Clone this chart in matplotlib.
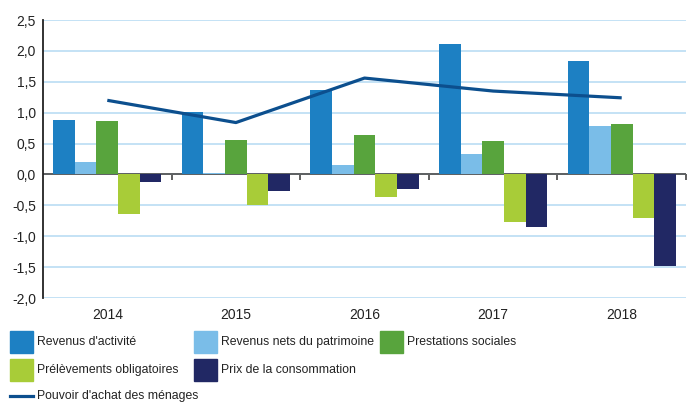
import numpy as np
import matplotlib
matplotlib.use("Agg")
import matplotlib.pyplot as plt
from matplotlib import font_manager
from matplotlib.patches import Rectangle
from matplotlib.lines import Line2D
from matplotlib.ticker import FuncFormatter

# データ
years = ["2014", "2015", "2016", "2017", "2018"]
revenus_activite = [0.88, 1.01, 1.37, 2.11, 1.83]
revenus_patrimoine = [0.20, 0.03, 0.15, 0.33, 0.78]
prestations = [0.86, 0.56, 0.64, 0.54, 0.82]
prelevements = [-0.64, -0.49, -0.36, -0.77, -0.70]
prix_conso = [-0.12, -0.26, -0.24, -0.85, -1.49]
pouvoir_achat = [1.20, 0.84, 1.56, 1.35, 1.24]

bar_labels = ["Revenus d'activité", "Revenus nets du patrimoine", "Prestations sociales",
              "Prélèvements obligatoires", "Prix de la consommation"]
line_label = "Pouvoir d'achat des ménages"

colors = ["#1d80c3", "#7abde8", "#58a43d", "#a8cc38", "#212864"]
line_color = "#0c4f8e"
grid_color = "#c4e2f5"

# フォント選択（細めの書体があれば使う）
names = {f.name for f in font_manager.fontManager.ttflist}
if "Liberation Sans Narrow" in names:
    family = "Liberation Sans Narrow"
elif "DejaVu Sans Condensed" in names:
    family = "DejaVu Sans Condensed"
else:
    family = "Liberation Sans"
plt.rcParams["font.family"] = [family, "DejaVu Sans"]
plt.rcParams["font.size"] = 10

W, H = 694, 405
fig = plt.figure(figsize=(W / 100, H / 100), dpi=100)
ax = fig.add_axes([43 / W, 1 - 298 / H, (686 - 43) / W, (298 - 20) / H])

x = np.arange(len(years))
series = [revenus_activite, revenus_patrimoine, prestations, prelevements, prix_conso]
width = 0.168
for i, vals in enumerate(series):
    ax.bar(x + (i - 2) * width, vals, width, color=colors[i], zorder=3)

ax.plot(x, pouvoir_achat, color=line_color, lw=2.3, zorder=4, solid_capstyle="butt")

ax.set_xlim(-0.5, len(years) - 0.5)
ax.set_ylim(-2.0, 2.5)
ax.set_yticks(np.arange(-2.0, 2.51, 0.5))
ax.yaxis.set_major_formatter(FuncFormatter(lambda v, p: f"{v:.1f}".replace(".", ",")))
ax.set_xticks(x)
ax.set_xticklabels(years)
ax.tick_params(axis="x", length=0, pad=7, labelsize=10, colors="#222222")
ax.tick_params(axis="y", length=0, pad=5, labelsize=10, colors="#222222")

# グリッド
ax.grid(axis="y", color=grid_color, lw=1.4, zorder=0)
ax.set_axisbelow(True)
for s in ["top", "right", "bottom"]:
    ax.spines[s].set_visible(False)
ax.spines["left"].set_color("#222222")
ax.spines["left"].set_linewidth(1.3)
ax.spines["left"].set_zorder(5)

# ゼロ線と区切りの目盛り
ax.axhline(0, color="#555555", lw=1.3, zorder=2.5)
sec = ax.secondary_xaxis(2.0 / 4.5)
sec.set_xticks(np.arange(0.5, len(years), 1.0))
sec.tick_params(axis="x", direction="out", length=4, width=1.2, colors="#444444",
                labelbottom=False, labeltop=False, bottom=True, top=False)
for s in ["top", "bottom"]:
    sec.spines[s].set_visible(False)

# 凡例（手動配置）
def fx(px):
    return px / W

def fy(py):
    return 1 - py / H

entries = [
    (0, 10, 342), (1, 194, 342), (2, 380, 342),
    (3, 10, 370), (4, 194, 370),
]
for idx, px, py in entries:
    fig.add_artist(Rectangle((fx(px), fy(py + 11)), 23 / W, 22 / H,
                             transform=fig.transFigure, color=colors[idx]))
    fig.text(fx(px + 27), fy(py), bar_labels[idx], ha="left", va="center",
             fontsize=8.8, color="#222222")
fig.add_artist(Line2D([fx(10), fx(33)], [fy(396), fy(396)], transform=fig.transFigure,
                      color=line_color, lw=2.3))
fig.text(fx(37), fy(396), line_label, ha="left", va="center", fontsize=8.8, color="#222222")

fig.savefig("out.png", dpi=100)
